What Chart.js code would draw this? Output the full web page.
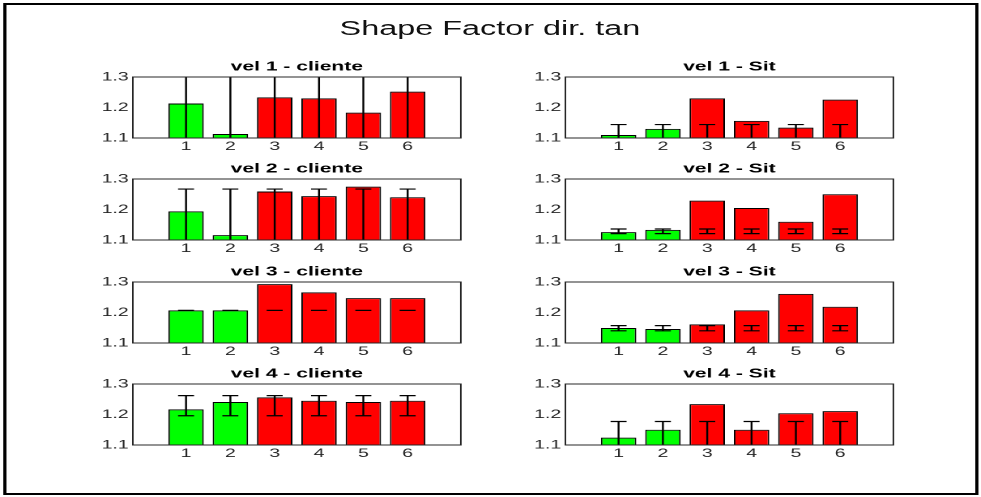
<!DOCTYPE html>
<html>
<head>
<meta charset="utf-8">
<script src="https://cdn.jsdelivr.net/npm/chart.js@4/dist/chart.umd.min.js"></script>
<style>
  html, body { margin: 0; padding: 0; background: #fff; overflow: hidden; width: 981px; height: 497px; }
  #fig { position: absolute; left: 0; top: 0; height: 497px; transform-origin: 0 0; }
  #frame { position: absolute; box-sizing: border-box; border: 2px solid #000; }
  #suptitle { position: absolute; left: 0; text-align: center; color: #111;
              font-family: "Liberation Sans", Arial, Helvetica, sans-serif; white-space: nowrap; }
  canvas { position: absolute; }
</style>
</head>
<body>
<div id="fig">
  <div id="frame"></div>
  <div id="suptitle">Shape Factor dir. tan</div>
</div>
<script>
// ---- data ----
const categories = ['1', '2', '3', '4', '5', '6'];
const xTicks = [1, 2, 3, 4, 5, 6];
const yTicks = [1.1, 1.2, 1.3];
const yTickLabels = ['1.1', '1.2', '1.3'];
const barColors = ['#00ff00', '#00ff00', '#ff0000', '#ff0000', '#ff0000', '#ff0000'];

const panelTitles = [
  'vel 1 - cliente', 'vel 1 - Sit',
  'vel 2 - cliente', 'vel 2 - Sit',
  'vel 3 - cliente', 'vel 3 - Sit',
  'vel 4 - cliente', 'vel 4 - Sit'
];

// mean shape factor per position
const vel1Cliente = [1.213, 1.113, 1.233, 1.230, 1.183, 1.252];
const vel1Sit     = [1.110, 1.130, 1.230, 1.156, 1.134, 1.226];
const vel2Cliente = [1.194, 1.116, 1.259, 1.244, 1.275, 1.240];
const vel2Sit     = [1.126, 1.133, 1.229, 1.205, 1.160, 1.250];
const vel3Cliente = [1.207, 1.207, 1.293, 1.266, 1.247, 1.247];
const vel3Sit     = [1.149, 1.146, 1.161, 1.207, 1.261, 1.219];
const vel4Cliente = [1.217, 1.241, 1.256, 1.245, 1.241, 1.245];
const vel4Sit     = [1.124, 1.150, 1.234, 1.150, 1.204, 1.211];

// error bars: centre value and half length
const vel1ClienteErrMid  = [1.165, 1.165, 1.165, 1.165, 1.165, 1.165];
const vel1ClienteErrHalf = [0.200, 0.200, 0.200, 0.200, 0.200, 0.200];
const vel1SitErrMid      = [1.090, 1.090, 1.090, 1.090, 1.090, 1.090];
const vel1SitErrHalf     = [0.054, 0.054, 0.054, 0.054, 0.054, 0.054];
const vel2ClienteErrMid  = [1.150, 1.150, 1.150, 1.150, 1.150, 1.150];
const vel2ClienteErrHalf = [0.117, 0.117, 0.117, 0.117, 0.117, 0.117];
const vel2SitErrMid      = [1.1285, 1.1285, 1.1285, 1.1285, 1.1285, 1.1285];
const vel2SitErrHalf     = [0.0075, 0.0075, 0.0075, 0.0075, 0.0075, 0.0075];
const vel3ClienteErrMid  = [1.207, 1.207, 1.207, 1.207, 1.207, 1.207];
const vel3ClienteErrHalf = [0, 0, 0, 0, 0, 0];
const vel3SitErrMid      = [1.1485, 1.1485, 1.1485, 1.1485, 1.1485, 1.1485];
const vel3SitErrHalf     = [0.0085, 0.0085, 0.0085, 0.0085, 0.0085, 0.0085];
const vel4ClienteErrMid  = [1.229, 1.229, 1.229, 1.229, 1.229, 1.229];
const vel4ClienteErrHalf = [0.033, 0.033, 0.033, 0.033, 0.033, 0.033];
const vel4SitErrMid      = [1.120, 1.120, 1.120, 1.120, 1.120, 1.120];
const vel4SitErrHalf     = [0.057, 0.057, 0.057, 0.057, 0.057, 0.057];

// ---- layout ----
const SX = 1.62;                 // horizontal stretch of the whole figure
const FIG_W = 981 / SX;
const colLeft = [133, 566];      // plot box left edges (page px)
const plotW = 328;
const rowTop = [77.3, 179.3, 281.8, 384.2];
const plotH = 61;
const Y_AXIS_W = 40, X_AXIS_H = 22, TITLE_H = 26;
const FONT = '"Liberation Sans", Arial, Helvetica, sans-serif';
const INK = '#262626';

const fig = document.getElementById('fig');
fig.style.width = FIG_W + 'px';
fig.style.transform = 'scaleX(' + SX + ')';

const frame = document.getElementById('frame');
frame.style.left = (3 / SX) + 'px';
frame.style.top = '3px';
frame.style.width = (975 / SX) + 'px';
frame.style.height = '492px';

const sup = document.getElementById('suptitle');
sup.style.width = (980 / SX) + 'px';
sup.style.top = '17px';
sup.style.fontSize = '20px';
sup.style.lineHeight = '22px';

const panels = [
  [vel1Cliente, vel1ClienteErrMid, vel1ClienteErrHalf],
  [vel1Sit, vel1SitErrMid, vel1SitErrHalf],
  [vel2Cliente, vel2ClienteErrMid, vel2ClienteErrHalf],
  [vel2Sit, vel2SitErrMid, vel2SitErrHalf],
  [vel3Cliente, vel3ClienteErrMid, vel3ClienteErrHalf],
  [vel3Sit, vel3SitErrMid, vel3SitErrHalf],
  [vel4Cliente, vel4ClienteErrMid, vel4ClienteErrHalf],
  [vel4Sit, vel4SitErrMid, vel4SitErrHalf]
];

// error bars drawn through the value scale, clipped to the axes box
const errorBarPlugin = {
  id: 'errorBars',
  afterDatasetsDraw(chart, args, opts) {
    const { ctx, chartArea: a } = chart;
    const yScale = chart.scales.y;
    const meta = chart.getDatasetMeta(0);
    ctx.save();
    ctx.beginPath();
    ctx.rect(a.left, a.top, a.right - a.left, a.bottom - a.top);
    ctx.clip();
    ctx.strokeStyle = '#000';
    ctx.lineWidth = 1.2;
    const capHalf = 8 / SX;
    meta.data.forEach((bar, i) => {
      const hi = yScale.getPixelForValue(opts.mid[i] + opts.half[i]);
      const lo = yScale.getPixelForValue(opts.mid[i] - opts.half[i]);
      ctx.beginPath();
      ctx.moveTo(bar.x, hi); ctx.lineTo(bar.x, lo);
      ctx.moveTo(bar.x - capHalf, hi); ctx.lineTo(bar.x + capHalf, hi);
      ctx.moveTo(bar.x - capHalf, lo); ctx.lineTo(bar.x + capHalf, lo);
      ctx.stroke();
    });
    ctx.restore();
  }
};

// axes box on top of everything
const boxPlugin = {
  id: 'axesBox',
  afterDraw(chart) {
    const { ctx, chartArea: a } = chart;
    ctx.save();
    ctx.strokeStyle = INK;
    ctx.lineWidth = 1;
    ctx.strokeRect(a.left, a.top, a.right - a.left, a.bottom - a.top);
    ctx.restore();
  }
};

panels.forEach((p, k) => {
  const [values, errMid, errHalf] = p;
  const col = k % 2, row = Math.floor(k / 2);
  const innerW = plotW / SX;
  const cw = Math.ceil(innerW + Y_AXIS_W + 4);
  const ch = TITLE_H + plotH + X_AXIS_H;
  const canvas = document.createElement('canvas');
  canvas.width = cw;
  canvas.height = ch;
  canvas.style.left = (colLeft[col] / SX - Y_AXIS_W) + 'px';
  canvas.style.top = (rowTop[row] - TITLE_H) + 'px';
  fig.appendChild(canvas);

  new Chart(canvas, {
    type: 'bar',
    data: {
      labels: categories,
      datasets: [{
        data: xTicks.map((x, i) => ({ x: x, y: values[i] })),
        backgroundColor: barColors,
        borderColor: '#000',
        borderWidth: 1,
        borderSkipped: false,
        categoryPercentage: 1,
        barPercentage: 0.8,
        clip: 0
      }]
    },
    options: {
      responsive: false,
      animation: false,
      devicePixelRatio: 2,
      layout: { padding: { left: 0, top: 0, bottom: 0, right: cw - Y_AXIS_W - innerW } },
      plugins: {
        legend: { display: false },
        tooltip: { enabled: false },
        title: {
          display: true,
          fullSize: false,          // centre the title over the axes box
          text: panelTitles[k],
          color: '#000',
          font: { family: FONT, size: 13, weight: 'bold', lineHeight: '14px' },
          padding: { top: 9, bottom: 3 }
        },
        errorBars: { mid: errMid, half: errHalf }
      },
      scales: {
        x: {
          type: 'linear',
          offset: false,
          min: -0.2,
          max: 7.2,
          grid: { display: false, drawTicks: false },
          border: { display: false },
          afterBuildTicks: s => { s.ticks = xTicks.map(v => ({ value: v })); },
          afterFit: s => { s.height = X_AXIS_H; },
          ticks: {
            autoSkip: false,
            maxRotation: 0,
            padding: 1.5,
            color: INK,
            font: { family: FONT, size: 12 },
            callback: (v) => categories[xTicks.indexOf(v)]
          }
        },
        y: {
          min: 1.1,
          max: 1.3,
          beginAtZero: false,
          grid: { display: false, drawTicks: false },
          border: { display: false },
          afterBuildTicks: s => { s.ticks = yTicks.map(v => ({ value: v })); },
          afterFit: s => { s.width = Y_AXIS_W; },
          ticks: {
            padding: 2.6,
            color: INK,
            font: { family: FONT, size: 12 },
            callback: (v) => yTickLabels[yTicks.indexOf(v)]
          }
        }
      }
    },
    plugins: [errorBarPlugin, boxPlugin]
  });
});
</script>
</body>
</html>
